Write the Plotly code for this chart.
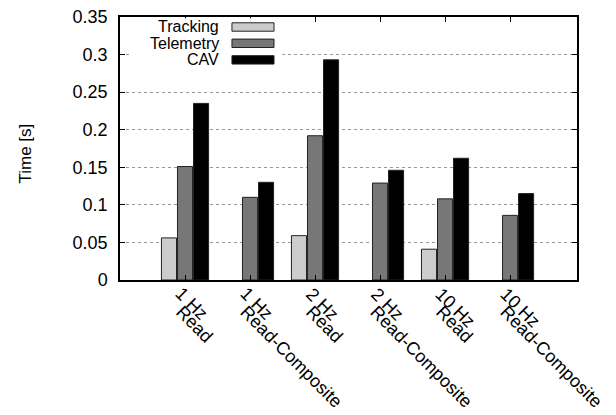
import plotly.graph_objects as go

line1 = ["1 Hz", "1 Hz", "2 Hz", "2 Hz", "10 Hz", "10 Hz"]
line2 = ["Read", "Read-Composite", "Read", "Read-Composite", "Read", "Read-Composite"]
tracking = [0.056, None, 0.059, None, 0.041, None]
telemetry = [0.151, 0.110, 0.192, 0.129, 0.108, 0.086]
cav = [0.235, 0.130, 0.293, 0.146, 0.162, 0.115]
y_ticks = [0, 0.05, 0.1, 0.15, 0.2, 0.25, 0.3, 0.35]
y_tick_text = ["0", "0.05", "0.1", "0.15", "0.2", "0.25", "0.3", "0.35"]

series = [("Tracking", tracking, "#cccccc"),
          ("Telemetry", telemetry, "#777777"),
          ("CAV", cav, "#000000")]

FONT = "Liberation Sans, Arial, Helvetica, sans-serif"
x = list(range(len(line1)))

fig = go.Figure()
for name, vals, col in series:
    fig.add_trace(go.Bar(x=x, y=vals, name=name, marker_color=col,
                         marker_line_color="#222222", marker_line_width=1,
                         showlegend=False))

# manual legend (text right-aligned, swatch to the right) like gnuplot
fig.add_shape(type="rect", xref="paper", yref="paper", x0=0.02, x1=0.355,
              y0=0.80, y1=0.995, fillcolor="white", line_width=0, layer="above")
rows_y = [0.962, 0.900, 0.837]
for (name, vals, col), yy in zip(series, rows_y):
    fig.add_annotation(xref="paper", yref="paper", x=0.222, y=yy, text=name,
                       showarrow=False, xanchor="right", yanchor="middle",
                       font=dict(family=FONT, size=16, color="black"))
    fig.add_shape(type="rect", xref="paper", yref="paper", x0=0.245, x1=0.337,
                  y0=yy - 0.016, y1=yy + 0.016, fillcolor=col,
                  line=dict(color="#222222", width=1), layer="above")

# rotated two-line category labels (gnuplot style: lines stacked vertically)
for xi, a, b in zip(x, line1, line2):
    for txt, ys in ((a, -1), (b, -19)):
        fig.add_annotation(xref="x", yref="paper", x=xi, y=0, xshift=-16, yshift=ys,
                           text=txt, textangle=45, showarrow=False,
                           xanchor="left", yanchor="top",
                           font=dict(family=FONT, size=18, color="black"))

# y-axis title
fig.add_annotation(xref="paper", yref="paper", x=0, y=0.481, xshift=-95,
                   text="Time [s]", textangle=-90, showarrow=False,
                   xanchor="center", yanchor="middle",
                   font=dict(family=FONT, size=17, color="black"))

fig.update_layout(
    width=616, height=415,
    margin=dict(l=120, r=39, t=17, b=135, autoexpand=False),
    paper_bgcolor="white", plot_bgcolor="white",
    barmode="group", bargap=0.26, bargroupgap=0.06,
    font=dict(family=FONT, size=16, color="black"),
    showlegend=False,
)
fig.update_xaxes(range=[-1, 6.03], tickmode="array", tickvals=x, showticklabels=False,
                 ticks="inside", ticklen=5, tickcolor="black",
                 showline=True, linecolor="black", linewidth=1.5, mirror="ticks",
                 showgrid=False, zeroline=False, automargin=False)
fig.update_yaxes(range=[0, 0.35], tickmode="array", tickvals=y_ticks, ticktext=y_tick_text,
                 ticks="inside", ticklen=5, tickcolor="black", ticklabelstandoff=7,
                 showline=True, linecolor="black", linewidth=1.5, mirror="ticks",
                 showgrid=True, gridcolor="#999999", griddash="dot", gridwidth=1,
                 zeroline=False, tickfont=dict(size=18), automargin=False)

fig.write_html("out.html", config={"displayModeBar": False},
               post_script="document.body.style.margin='0';document.body.style.overflow='hidden';")
